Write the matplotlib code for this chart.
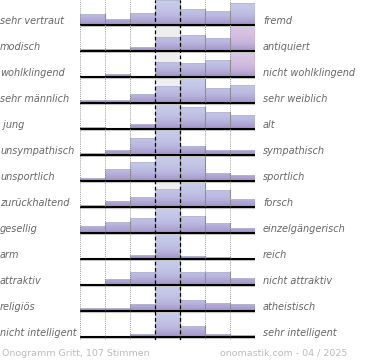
import numpy as np
import matplotlib
matplotlib.use("Agg")
import matplotlib.pyplot as plt
from matplotlib.colors import LinearSegmentedColormap

left_labels = ["sehr vertraut", "modisch", "wohlklingend", "sehr männlich", " jung",
               "unsympathisch", "unsportlich", "zurückhaltend", "gesellig", "arm",
               "attraktiv", "religiös", "nicht intelligent"]
right_labels = ["fremd", "antiquiert", "nicht wohlklingend", "sehr weiblich", "alt",
                "sympathisch", "sportlich", "forsch", "einzelgängerisch", "reich",
                "nicht attraktiv", "atheistisch", "sehr intelligent"]

# relative frequencies of the 7 scale steps
values = [
    [10.7, 5.7, 11.7, 25.0, 15.7, 14.3, 21.7],
    [1.7, 1.7, 3.7, 13.7, 16.0, 13.3, 25.0],
    [1.0, 2.7, 1.3, 15.0, 13.7, 16.7, 25.0],
    [2.7, 2.7, 9.3, 16.7, 25.0, 15.3, 18.3],
    [2.0, 1.3, 5.3, 25.0, 22.0, 17.0, 14.3],
    [2.2, 5.4, 17.4, 25.0, 9.0, 5.4, 5.4],
    [3.3, 12.3, 18.7, 25.0, 25.0, 8.2, 6.2],
    [2.3, 6.3, 10.0, 18.3, 25.0, 17.3, 7.7],
    [7.0, 11.0, 15.0, 25.0, 17.0, 10.0, 5.0],
    [1.5, 1.5, 4.5, 25.0, 3.5, 2.5, 0.0],
    [1.3, 6.0, 13.3, 25.0, 13.3, 13.3, 6.7],
    [2.7, 2.7, 6.7, 25.0, 10.7, 8.3, 7.3],
    [0.3, 0.3, 2.7, 25.0, 11.0, 2.7, 1.7],
]
footer_left = "Onogramm Gritt, 107 Stimmen"
footer_right = "onomastik.com - 04 / 2025"

pink_cells = {(1, 6), (2, 6)}

W, H = 370, 360
fig = plt.figure(figsize=(W / 100, H / 100), dpi=100)
fig.patch.set_facecolor("white")

row_px = 26.0
n = len(values)
ymin, ymax = -0.12, n - 1 + 25 / 26
ax_top_px = 0
ax_bot_px = 25 + row_px * (n - 1) + 0.12 * row_px
ax = fig.add_axes([80 / W, 1 - ax_bot_px / H, 175 / W, (ax_bot_px - ax_top_px) / H])
ax.set_xlim(0, 7)
ax.set_ylim(ymin, ymax)
ax.axis("off")

rowh = 25 / 26
blue = LinearSegmentedColormap.from_list("b", ["#a494c8", "#b9b6df", "#c3c6e7", "#c8cdea"])
pink = LinearSegmentedColormap.from_list("p", ["#a494c8", "#c8b4dc", "#d6c0e2", "#dcc6e6"])
grad = np.linspace(0, 1, 64).reshape(-1, 1)

for i, row in enumerate(values):
    base = n - 1 - i
    mx = max(row)
    # light background of the centre column
    ax.bar(3.5, rowh, width=1, bottom=base, color="#eeeeee", linewidth=0, zorder=1)
    hs = [v / mx * rowh for v in row]
    bars = ax.bar(np.arange(7) + 0.5, hs, width=1, bottom=base, color="none",
                  linewidth=0, zorder=2)
    for j, b in enumerate(bars):
        if hs[j] <= 0:
            continue
        cm = pink if (i, j) in pink_cells else blue
        im = ax.imshow(grad, cmap=cm, origin="lower", aspect="auto",
                       extent=(j, j + 1, base, base + rowh), zorder=2,
                       interpolation="bilinear")
        im.set_clip_path(b)
        ax.plot([j, j + 1], [base + hs[j]] * 2, color="#b4b6d2", lw=0.6, zorder=3)
        ax.plot([j + 1 - 0.02] * 2, [base, base + hs[j]], color="#999999", lw=0.8, zorder=3)
    ax.plot([0, 7], [base - 0.045] * 2, color="#cccccc", lw=0.8, zorder=4)
    ax.plot([0, 7], [base, base], color="black", lw=1.5, zorder=5, solid_capstyle="butt")

for x in [0, 1, 2, 5, 6, 7]:
    ax.plot([x, x], [ymin, ymax], color="#777777", lw=0.6, ls=(0, (1, 1.5)), zorder=6)
for x in [3, 4]:
    ax.plot([x, x], [ymin, ymax], color="black", lw=0.9, ls=(0, (3, 2)), zorder=6)

for i in range(n):
    ypx = 25 + row_px * i - 4.2
    fig.text(0 / W, 1 - ypx / H, left_labels[i], fontsize=7.0, style="italic",
             color="#666666", va="center", ha="left")
    fig.text(263 / W, 1 - ypx / H, right_labels[i], fontsize=7.0, style="italic",
             color="#666666", va="center", ha="left")

fig.text(2 / W, 1 - 353.5 / H, footer_left, fontsize=6.8, color="#bbbbbb", va="center", ha="left")
fig.text(220 / W, 1 - 353.5 / H, footer_right, fontsize=6.8, color="#bbbbbb", va="center", ha="left")

fig.savefig("out.png", dpi=100, facecolor="white")
